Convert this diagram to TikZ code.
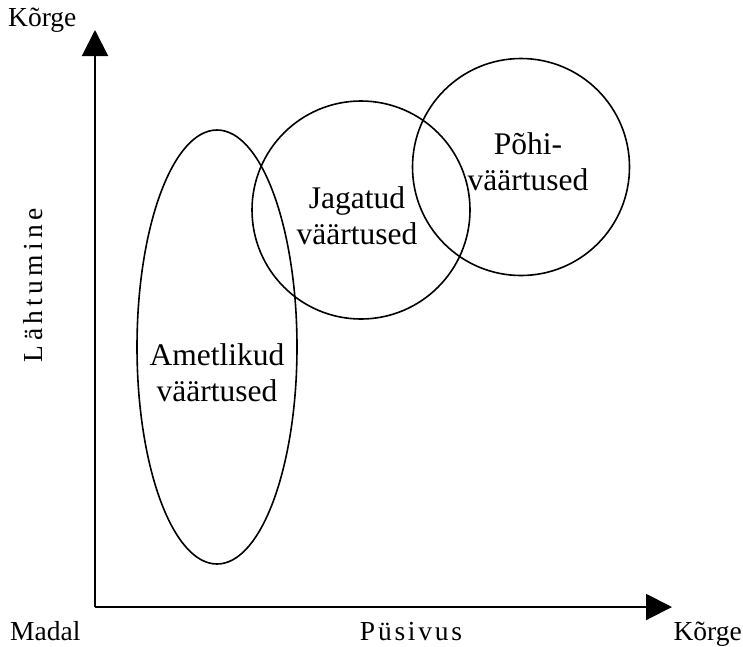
\documentclass[tikz,border=0pt]{standalone}
\usepackage{fontspec}
\setmainfont{Liberation Serif}
\usetikzlibrary{arrows.meta,shapes.geometric}
\begin{document}
\begin{tikzpicture}[x=1pt,y=-1pt,
  axis/.style={line width=2pt,-{Triangle[width=26pt,length=26pt]}},
  shapeline/.style={draw,line width=1.6pt,inner sep=0pt},
  inlabel/.style={font=\fontsize{31.5}{36}\selectfont,align=center,inner sep=0pt},
  axlabel/.style={font=\fontsize{27.5}{31}\selectfont,inner sep=0pt}]
\useasboundingbox (0,0) rectangle (743,646);
\coordinate (o) at (95,607);
\coordinate (ytip) at (95,30);
\coordinate (xtip) at (672,607);
\draw[axis] (o) -- (ytip);
\draw[axis] (o) -- (xtip);
\node[shapeline,ellipse,minimum width=160pt,minimum height=434pt] (amet) at (217,347) {};
\node[shapeline,circle,minimum size=218pt] (jag) at (361,210) {};
\node[shapeline,circle,minimum size=217pt] (pohi) at (521,167) {};
\node[inlabel] (tamet) at (217,373) {Ametlikud\\väärtused};
\node[inlabel] (tjag) at (357,216) {Jagatud\\väärtused};
\node[inlabel] (tpohi) at (528,162) {Põhi-\\väärtused};
\node[axlabel,anchor=west] (ktop) at (8,20) {Kõrge};
\node[axlabel,anchor=base west] (madal) at (10,640) {Madal};
\node[axlabel,anchor=base east] (kbot) at (742,640) {Kõrge};
\node[axlabel,anchor=base] (pus) at (411,640) {\addfontfeature{LetterSpace=10}Püsivus};
\node[axlabel,rotate=90] (lah) at (33,285) {\addfontfeature{LetterSpace=16}Lähtumine};
\end{tikzpicture}
\end{document}
